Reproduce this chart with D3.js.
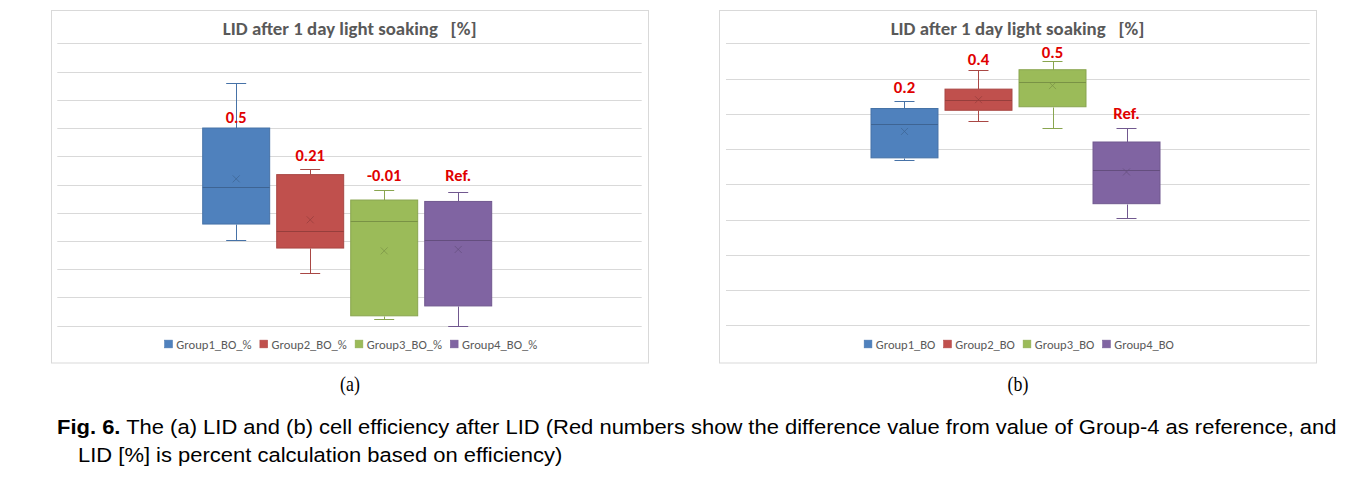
<!DOCTYPE html>
<html><head><meta charset="utf-8">
<script src="https://cdn.jsdelivr.net/npm/d3@7"></script>
<style>body{margin:0;background:#fff;} svg{display:block}</style>
</head><body>
<svg id="c" width="1354" height="479"></svg>
<script>
// ---------------- data ----------------
const groups = ["Group1", "Group2", "Group3", "Group4"];
const legendLid = ["Group1_BO_%", "Group2_BO_%", "Group3_BO_%", "Group4_BO_%"];
const legendEff = ["Group1_BO", "Group2_BO", "Group3_BO", "Group4_BO"];
const colors = ["#4f81bd", "#c0504d", "#9bbb59", "#8064a2"];

// (a) LID after 1 day light soaking [%]
const lidMin    = [1.61, 1.37, 1.05, 1.00];
const lidQ1     = [1.72, 1.55, 1.07, 1.14];
const lidMedian = [1.98, 1.67, 1.74, 1.61];
const lidQ3     = [2.40, 2.07, 1.89, 1.88];
const lidMax    = [2.72, 2.11, 1.96, 1.95];
const lidMean   = [2.04, 1.75, 1.53, 1.54];
const lidLabels = ["0.5", "0.21", "-0.01", "Ref."];
const lidLabelAt = [2.48, 2.21, 2.07, 2.07];
const lidGrid = [1.0, 1.2, 1.4, 1.6, 1.8, 2.0, 2.2, 2.4, 2.6, 2.8, 3.0];

// (b) cell efficiency after LID
const effMin    = [19.94, 20.16, 20.12, 19.61];
const effQ1     = [19.95, 20.22, 20.24, 19.69];
const effMedian = [20.14, 20.28, 20.38, 19.88];
const effQ3     = [20.23, 20.34, 20.45, 20.04];
const effMax    = [20.27, 20.45, 20.50, 20.12];
const effMean   = [20.10, 20.28, 20.36, 19.87];
const effLabels = ["0.2", "0.4", "0.5", "Ref."];
const effLabelAt = [20.35, 20.51, 20.55, 20.20];
const effGrid = [19.0, 19.2, 19.4, 19.6, 19.8, 20.0, 20.2, 20.4, 20.6];

const chartTitle = "LID after 1 day light soaking   [%]";
const captionBold = "Fig. 6.";
const captionLine1 = " The (a) LID and (b) cell efficiency after LID (Red numbers show the difference value from value of Group-4 as reference, and";
const captionLine2 = "LID [%] is percent calculation based on efficiency)";
const panelTags = ["(a)", "(b)"];

// ---------------- drawing ----------------
const svg = d3.select("#c");
const FONT = "Carlito, Lato, 'Open Sans', sans-serif";

function fit(sel, target) {
  const w = sel.node().getComputedTextLength();
  const fs = parseFloat(sel.attr("font-size"));
  sel.attr("font-size", fs * target / w);
  return fs * target / w;
}

function drawPanel(cfg) {
  const g = svg.append("g");
  // frame
  g.append("rect").attr("x", cfg.frame[0]).attr("y", cfg.frame[1])
    .attr("width", cfg.frame[2]).attr("height", cfg.frame[3])
    .attr("fill", "#fff").attr("stroke", "#d9d9d9").attr("stroke-width", 1);

  const y = d3.scaleLinear().domain(cfg.domain).range(cfg.yRange);
  const x = d3.scaleBand().domain(groups).range(cfg.boxRange).paddingInner(0.095).paddingOuter(0);

  // gridlines via axis
  const grid = g.append("g").attr("transform", `translate(${cfg.plotX[0]},0)`)
    .call(d3.axisLeft(y).tickValues(cfg.grid).tickSize(-(cfg.plotX[1] - cfg.plotX[0])).tickFormat(""));
  grid.select(".domain").remove();
  grid.selectAll(".tick line").attr("stroke", "#d9d9d9").attr("stroke-width", 1);
  grid.selectAll(".tick").attr("transform", d => `translate(0,${Math.round(y(d)) + 0.5})`);

  // title
  const t = g.append("text").attr("x", cfg.titleX).attr("y", 28)
    .attr("text-anchor", "middle").attr("dominant-baseline", "central")
    .attr("font-family", FONT).attr("font-weight", "bold").attr("font-size", 14)
    .attr("fill", "#595959").style("white-space", "pre").text(chartTitle);
  fit(t, 254);

  const s = cfg.stats;
  const bw = x.bandwidth();
  const capW = 20;
  groups.forEach((grp, i) => {
    const c = d3.color(colors[i]);
    const x0 = x(grp), cx = x0 + bw / 2;
    const stroke = c.darker(0.35).formatHex();
    const dark = c.darker(0.7).formatHex();
    const px = v => Math.round(y(v)) + 0.5;
    const cxr = Math.round(cx) + 0.5;
    // whiskers
    g.append("line").attr("x1", cxr).attr("x2", cxr).attr("y1", px(s.max[i])).attr("y2", px(s.q3[i]))
      .attr("stroke", stroke).attr("stroke-width", 1);
    g.append("line").attr("x1", cxr).attr("x2", cxr).attr("y1", px(s.q1[i])).attr("y2", px(s.min[i]))
      .attr("stroke", stroke).attr("stroke-width", 1);
    [s.max[i], s.min[i]].forEach(v => {
      g.append("line").attr("x1", cx - capW / 2).attr("x2", cx + capW / 2).attr("y1", px(v)).attr("y2", px(v))
        .attr("stroke", stroke).attr("stroke-width", 1);
    });
    // box
    g.append("rect").attr("x", x0).attr("y", y(s.q3[i]))
      .attr("width", bw).attr("height", y(s.q1[i]) - y(s.q3[i]))
      .attr("fill", colors[i]).attr("stroke", stroke).attr("stroke-width", 1);
    // median
    g.append("line").attr("x1", x0).attr("x2", x0 + bw).attr("y1", px(s.median[i])).attr("y2", px(s.median[i]))
      .attr("stroke", dark).attr("stroke-width", 1);
    // mean marker
    const my = y(s.mean[i]), r = 3.5;
    g.append("path").attr("d", `M${cx - r},${my - r}L${cx + r},${my + r}M${cx - r},${my + r}L${cx + r},${my - r}`)
      .attr("stroke", dark).attr("stroke-width", 0.9).attr("fill", "none").attr("opacity", 0.8);
  });

  // red difference labels
  let lfs = null;
  cfg.labels.forEach((lab, i) => {
    const tt = g.append("text").attr("x", x(groups[i]) + bw / 2).attr("y", y(cfg.labelAt[i]))
      .attr("text-anchor", "middle").attr("dominant-baseline", "central")
      .attr("font-family", FONT).attr("font-weight", "bold").attr("font-size", 14)
      .attr("fill", "#e00000").attr("class", "difflab").text(lab);
    if (lab === "0.21") lfs = fit(tt, 29.3);
    if (lab === "0.2") lfs = fit(tt, 21.5);
  });
  if (lfs) g.selectAll("text.difflab").attr("font-size", lfs);

  // legend
  const lg = g.append("g");
  let cursor = 0;
  const sq = 7.7;
  cfg.legend.forEach((name, i) => {
    const it = lg.append("g").attr("transform", `translate(${cursor},0)`);
    it.append("rect").attr("x", 0).attr("y", -sq / 2).attr("width", sq).attr("height", sq)
      .attr("fill", colors[i]).attr("stroke", d3.color(colors[i]).darker(0.2).formatHex()).attr("stroke-width", 0.6);
    const tx = it.append("text").attr("x", 11.7).attr("y", 0).attr("dominant-baseline", "central")
      .attr("font-family", FONT).attr("font-size", 11).attr("fill", "#595959").text(name);
    fit(tx, cfg.legendTextW);
    cursor += 11.7 + tx.node().getComputedTextLength() + 8.3;
  });
  const total = cursor - 8.3;
  lg.attr("transform", `translate(${cfg.legendCenter - total / 2},344)`);

  return g;
}

drawPanel({
  frame: [51.5, 10.5, 597, 352.5],
  domain: [1.0, 3.0], yRange: [325.7, 43.3],
  plotX: [57.3, 641.7], boxRange: [202.7, 491.7],
  grid: lidGrid, titleX: 349.7, legendCenter: 351, legendTextW: 75.3,
  stats: { min: lidMin, q1: lidQ1, median: lidMedian, q3: lidQ3, max: lidMax, mean: lidMean },
  labels: lidLabels, labelAt: lidLabelAt, legend: legendLid
});
drawPanel({
  frame: [719.5, 10.5, 597, 352.5],
  domain: [19.0, 20.6], yRange: [325.3, 43.3],
  plotX: [726, 1309.7], boxRange: [871, 1160],
  grid: effGrid, titleX: 1017.5, legendCenter: 1019, legendTextW: 59.6,
  stats: { min: effMin, q1: effQ1, median: effMedian, q3: effQ3, max: effMax, mean: effMean },
  labels: effLabels, labelAt: effLabelAt, legend: legendEff
});

// panel tags (slightly condensed, like the reference)
[350, 1018].forEach((cx, i) => {
  svg.append("text").attr("transform", `translate(${cx},384) scale(0.85,1)`)
    .attr("text-anchor", "middle").attr("dominant-baseline", "central")
    .attr("font-family", "'Liberation Serif', 'Times New Roman', serif").attr("font-size", 21).attr("fill", "#000")
    .text(panelTags[i]);
});

// caption: taller glyphs, horizontally condensed to the reference width
const capFont = "'Liberation Sans', Arial, sans-serif";
const capSize = 19.5;
const cap1 = svg.append("text").attr("x", 0).attr("y", 0).attr("dominant-baseline", "central")
  .attr("font-family", capFont).attr("font-size", capSize).attr("fill", "#000")
  .style("white-space", "pre");
cap1.append("tspan").attr("font-weight", "bold").text(captionBold);
cap1.append("tspan").text(captionLine1);
const sx = 1280 / cap1.node().getComputedTextLength();
cap1.attr("transform", `translate(57,426) scale(${sx},1)`);
svg.append("text").attr("transform", `translate(78,455) scale(${sx},1)`).attr("dominant-baseline", "central")
  .attr("font-family", capFont).attr("font-size", capSize).attr("fill", "#000")
  .text(captionLine2);
</script>
</body></html>
